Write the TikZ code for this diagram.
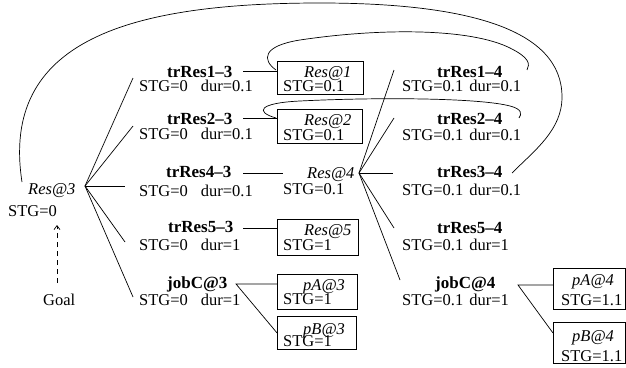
\documentclass[tikz,border=0pt]{standalone}
\usepackage{fontspec}
\setmainfont{Liberation Serif}
\usetikzlibrary{arrows.meta}
\begin{document}
\begin{tikzpicture}[x=1pt,y=-1pt,
  txt/.style={inner sep=0pt, anchor=base west, font=\fontsize{16.5}{18}\selectfont},
  nm/.style={inner sep=0pt, anchor=base west, font=\fontsize{17}{18}\selectfont\bfseries},
  it/.style={inner sep=0pt, anchor=base west, font=\fontsize{16.5}{18}\selectfont\itshape},
  bx/.style={draw, line width=0.8pt, inner sep=0pt, anchor=north west},
  ln/.style={line width=0.7pt},
]
\useasboundingbox (0,0) rectangle (626,367);

% ---- left root
\node[it]  (r3)   at (28,194)  {Res@3};
\node[txt] (s3)   at (8,216)   {STG=0};
\node[txt] (goal) at (43,305)  {Goal};

% ---- level 3 actions
\node[nm]  (n13) at (167,77)  {trRes1--3};
\node[txt] (s13) at (139,91)  {STG=0\hspace{13pt}dur=0.1};
\node[nm]  (n23) at (167,124) {trRes2--3};
\node[txt] (s23) at (139,139) {STG=0\hspace{13pt}dur=0.1};
\node[nm]  (n43) at (166,177) {trRes4--3};
\node[txt] (s43) at (139,196) {STG=0\hspace{13pt}dur=0.1};
\node[nm]  (n53) at (168,232) {trRes5--3};
\node[txt] (s53) at (139,250) {STG=0\hspace{13pt}dur=1};
\node[nm]  (j3)  at (167,288) {jobC@3};
\node[txt] (sj3) at (139,305) {STG=0\hspace{13pt}dur=1};

% ---- middle boxes
\node[bx, minimum width=86pt, minimum height=33pt] (b1) at (277,61) {};
\node[it]  (b1n) at (304,77)   {Res@1};
\node[txt] (b1s) at (283,91.5) {STG=0.1};
\node[bx, minimum width=85pt, minimum height=34pt] (b2) at (277,109) {};
\node[it]  (b2n) at (304,125)  {Res@2};
\node[txt] (b2s) at (283,140)  {STG=0.1};
\node[it]  (r4)  at (307,178)  {Res@4};
\node[txt] (s4)  at (283,194)  {STG=0.1};
\node[bx, minimum width=81pt, minimum height=36pt] (b5) at (277,219) {};
\node[it]  (b5n) at (304,235)  {Res@5};
\node[txt] (b5s) at (283,250)  {STG=1};
\node[bx, minimum width=80pt, minimum height=35pt] (bA3) at (277,274) {};
\node[it]  (bA3n) at (303,290) {pA@3};
\node[txt] (bA3s) at (283,304) {STG=1};
\node[bx, minimum width=79pt, minimum height=33pt] (bB3) at (277,316) {};
\node[it]  (bB3n) at (303,334) {pB@3};
\node[txt] (bB3s) at (283,346) {STG=1};

% ---- level 4 actions
\node[nm]  (n14) at (437,77)   {trRes1--4};
\node[txt] (s14) at (402,91.5) {STG=0.1\hspace{6pt}dur=0.1};
\node[nm]  (n24) at (437,124)  {trRes2--4};
\node[txt] (s24) at (402,140)  {STG=0.1\hspace{6pt}dur=0.1};
\node[nm]  (n34) at (437,177)  {trRes3--4};
\node[txt] (s34) at (402,195)  {STG=0.1\hspace{6pt}dur=0.1};
\node[nm]  (n54) at (437,233)  {trRes5--4};
\node[txt] (s54) at (402,250)  {STG=0.1\hspace{6pt}dur=1};
\node[nm]  (j4)  at (435,288)  {jobC@4};
\node[txt] (sj4) at (402,305)  {STG=0.1\hspace{6pt}dur=1};

% ---- right boxes
\node[bx, minimum width=72pt, minimum height=41pt] (bA4) at (553,268) {};
\node[it]  (bA4n) at (572,285) {pA@4};
\node[txt] (bA4s) at (561,305) {STG=1.1};
\node[bx, minimum width=72pt, minimum height=41pt] (bB4) at (553,322) {};
\node[it]  (bB4n) at (572,341) {pB@4};
\node[txt] (bB4s) at (561,361) {STG=1.1};

% ---- connector end points
\coordinate (o3)  at (85,186);
\coordinate (e13) at (133,78);
\coordinate (e23) at (133,126);
\coordinate (e43) at (125,186);
\coordinate (e53) at (125,242);
\coordinate (ej3) at (133,297);
\coordinate (o4)  at (359,173);
\coordinate (e14) at (394,70);
\coordinate (e24) at (394,118);
\coordinate (e34) at (393,173);
\coordinate (e54) at (394,228);
\coordinate (ej4) at (400,280);
\coordinate (h13) at (243,71);
\coordinate (h23) at (243,118);
\coordinate (h43) at (243,173);
\coordinate (a4)  at (283,173);
\coordinate (h53) at (243,228);
\coordinate (hj3) at (236,284);
\coordinate (hj4) at (518,285);
\coordinate (kB4) at (553,333);
\coordinate (g0)  at (57,283);
\coordinate (g1)  at (57,225);
\coordinate (c0)  at (22,182);
\coordinate (c1)  at (512,173);
\coordinate (k1s) at (276,70);
\coordinate (k1e) at (527,70);
\coordinate (k2s) at (276,118);
\coordinate (k2e) at (519,118);

% ---- fans
\foreach \e in {e13,e23,e43,e53,ej3} \draw[ln] (o3) -- (\e);
\foreach \e in {e14,e24,e34,e54,ej4} \draw[ln] (o4) -- (\e);

% ---- to boxes
\draw[ln] (h13) -- (h13 -| b1.west);
\draw[ln] (h23) -- (h23 -| b2.west);
\draw[ln] (h43) -- (a4);
\draw[ln] (h53) -- (h53 -| b5.west);
\draw[ln] (hj3 -| bA3.west) -- (hj3) -- (bB3.west);
\draw[ln] (hj4 -| bA4.west) -- (hj4) -- (kB4);

% ---- goal arrow
\draw[ln, dash pattern=on 5pt off 4pt, -{Straight Barb[length=4pt,width=6pt]}] (g0) -- (g1);

% ---- curves
\draw[ln] (c0) .. controls (0,40) and (130,3) .. (320,3)
  .. controls (470,3) and (562,30) .. (562,97)
  .. controls (562,130) and (535,150) .. (c1);
\draw[ln] (k1s) .. controls (262,60) and (262,46) .. (300,40)
  .. controls (380,28) and (470,28) .. (510,48)
  .. controls (530,58) and (530,64) .. (k1e);
\draw[ln] (k2s) .. controls (255,112) and (258,103) .. (300,101)
  .. controls (380,97) and (480,98) .. (510,106)
  .. controls (522,109) and (522,114) .. (k2e);
\end{tikzpicture}
\end{document}
